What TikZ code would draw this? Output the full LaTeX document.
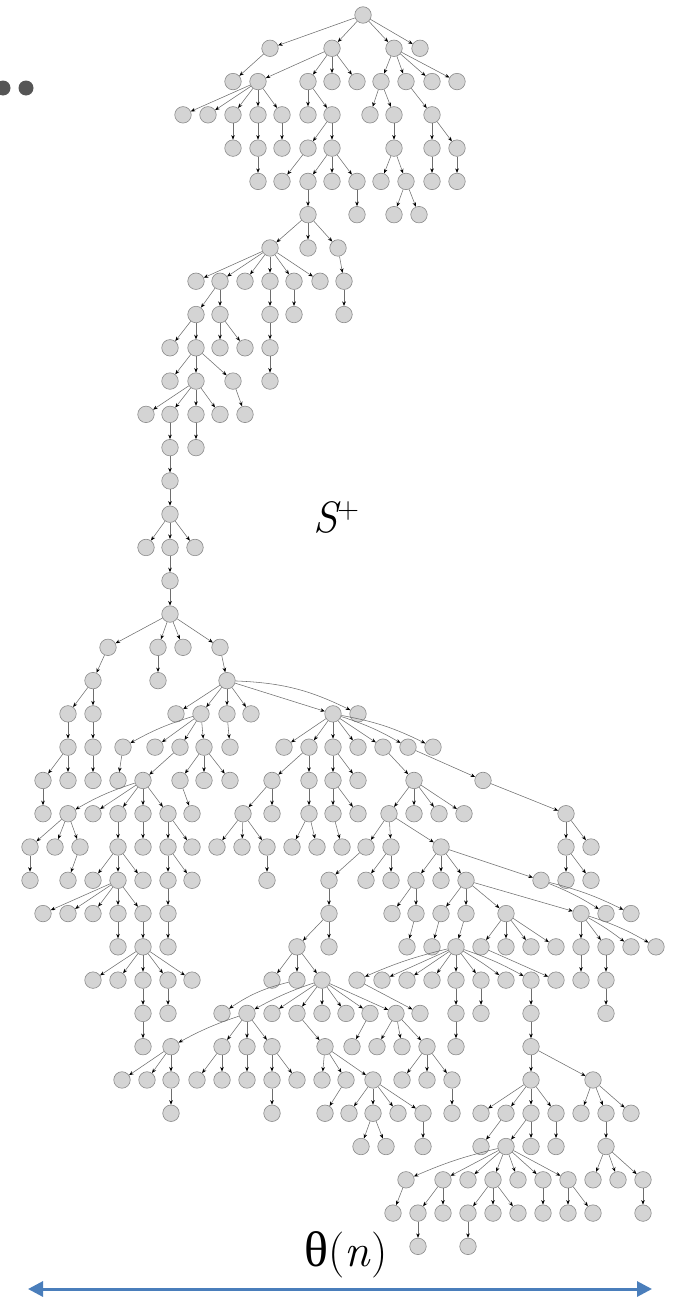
\documentclass[tikz,border=0pt]{standalone}
\usepackage{fontspec}
\newfontfamily\lserif{Liberation Serif}
\usetikzlibrary{arrows.meta}
\definecolor{nfill}{HTML}{D4D4D4}
\definecolor{nborder}{HTML}{8A8A8A}
\definecolor{egray}{HTML}{6E6E6E}
\definecolor{arblue}{HTML}{4A7EBB}
\definecolor{dotgray}{HTML}{555555}
\tikzset{
  tn/.style={circle, draw=nborder, fill=nfill, line width=0.6pt, minimum size=16.5pt, inner sep=0pt},
  ed/.style={draw=egray, line width=0.55pt, -{Stealth[length=4.5pt,width=3.6pt,color=black]}},
  dotn/.style={circle, fill=dotgray, minimum size=15pt, inner sep=0pt},
  bigarrow/.style={draw=arblue, line width=3pt, {Triangle[length=15pt,width=15pt]}-{Triangle[length=15pt,width=15pt]}}
}
\newcommand\mylvl[2]{\foreach \xx in {#2}{\node[tn] (n#1-\xx) at (\xx,{15+33.28*#1}) {};}}
\newcommand\mykids[3]{\pgfmathtruncatemacro\cl{#1+1}\foreach \cc in {#3}{\draw[ed] (n#1-#2) -- (n\cl-\cc);}}
\newcommand\mybent[4]{\pgfmathtruncatemacro\cl{#1+1}\draw[ed] (n#1-#2) to[#4] (n\cl-#3);}
\begin{document}
\begin{tikzpicture}[x=1pt,y=-1pt]
\useasboundingbox (0,0) rectangle (674,1298);
% nodes
\mylvl{0}{363}
\mylvl{1}{270,332,394,420}
\mylvl{2}{233,258,308,332,357,381,406,432,457}
\mylvl{3}{183,208,233,258,282,308,332,370,394,432}
\mylvl{4}{233,258,282,308,332,394,432,457}
\mylvl{5}{258,282,308,332,357,381,406,432,457}
\mylvl{6}{308,357,394,419}
\mylvl{7}{270,308,338}
\mylvl{8}{196,220,245,270,294,320,344}
\mylvl{9}{196,220,270,294,344}
\mylvl{10}{170,196,220,245,270}
\mylvl{11}{170,196,233,270}
\mylvl{12}{146,170,196,220,245}
\mylvl{13}{170,196}
\mylvl{14}{170}
\mylvl{15}{170}
\mylvl{16}{146,170,195}
\mylvl{17}{170}
\mylvl{18}{170}
\mylvl{19}{108,158,183,220}
\mylvl{20}{93,158,227}
\mylvl{21}{68,93,176,201,227,251,333,358}
\mylvl{22}{68,93,123,155,180,204,230,284,309,333,358,383,408,433}
\mylvl{23}{43,68,93,118,143,180,204,230,272,309,333,358,414,483}
\mylvl{24}{43,68,93,118,143,168,192,243,272,309,333,358,389,414,439,464,566}
\mylvl{25}{30,55,80,118,143,168,192,217,242,267,292,317,342,366,391,441,566,591}
\mylvl{26}{30,68,93,118,143,168,192,267,329,366,391,416,441,466,541,566,591}
\mylvl{27}{43,68,93,118,143,168,329,392,416,441,466,506,581,606,631}
\mylvl{28}{118,143,168,297,329,407,432,456,481,506,531,556,581,606,631,656}
\mylvl{29}{93,118,143,168,192,272,297,322,357,382,407,432,456,481,506,531,556,581,606}
\mylvl{30}{143,168,222,247,272,297,322,346,370,396,420,456,481,531,606}
\mylvl{31}{143,171,222,247,272,325,352,377,402,427,456,531}
\mylvl{32}{122,147,171,197,222,247,272,297,322,346,373,402,427,452,531,593}
\mylvl{33}{171,272,325,349,373,398,423,452,481,506,531,556,581,606,631}
\mylvl{34}{361,386,423,481,506,531,556,606}
\mylvl{35}{406,443,468,493,518,543,568,593,618,643}
\mylvl{36}{393,418,443,468,493,518,543,568,593,643}
\mylvl{37}{418,468}
% edges
\mykids{0}{363}{270,332,394,420}
\mykids{1}{270}{233}
\mykids{1}{332}{258,308,332,357}
\mykids{1}{394}{381,406,432,457}
\mykids{2}{258}{183,208,233,258,282}
\mykids{2}{308}{308,332}
\mykids{2}{381}{370,394}
\mykids{2}{406}{432}
\mykids{3}{233}{233}
\mykids{3}{258}{258}
\mykids{3}{282}{282}
\mykids{3}{332}{308,332}
\mykids{3}{394}{394}
\mykids{3}{432}{432,457}
\mykids{4}{258}{258}
\mykids{4}{308}{282}
\mykids{4}{332}{308,332,357}
\mykids{4}{394}{381,406}
\mykids{4}{432}{432}
\mykids{4}{457}{457}
\mykids{5}{308}{308}
\mykids{5}{357}{357}
\mykids{5}{406}{394,419}
\mykids{6}{308}{270,308,338}
\mykids{7}{270}{196,220,245,270,294,320}
\mykids{7}{338}{344}
\mykids{8}{220}{196,220}
\mykids{8}{270}{270}
\mykids{8}{294}{294}
\mykids{8}{344}{344}
\mykids{9}{196}{170,196}
\mykids{9}{220}{220,245}
\mykids{9}{270}{270}
\mykids{10}{196}{170,196,233}
\mykids{10}{270}{270}
\mykids{11}{196}{146,170,196,220}
\mykids{11}{233}{245}
\mykids{12}{170}{170}
\mykids{12}{196}{196}
\mykids{13}{170}{170}
\mykids{14}{170}{170}
\mykids{15}{170}{146,170,195}
\mykids{16}{170}{170}
\mykids{17}{170}{170}
\mykids{18}{170}{108,158,183,220}
\mykids{19}{108}{93}
\mykids{19}{158}{158}
\mykids{19}{220}{227}
\mykids{20}{93}{68,93}
\mykids{20}{227}{176,201,227,251,333}
\mybent{20}{227}{358}{bend left=12}
\mykids{21}{68}{68}
\mykids{21}{93}{93}
\mykids{21}{201}{155,180,204}
\mybent{21}{201}{123}{bend right=6}
\mykids{21}{227}{230}
\mykids{21}{333}{284,309,333,358,383}
\mybent{21}{333}{408}{bend left=6}
\mybent{21}{333}{433}{bend left=8}
\mykids{22}{68}{43,68}
\mykids{22}{93}{93}
\mykids{22}{123}{118}
\mykids{22}{180}{143}
\mykids{22}{204}{180,204,230}
\mykids{22}{309}{272,309}
\mykids{22}{333}{333,358}
\mykids{22}{383}{414}
\mykids{22}{408}{483}
\mykids{23}{43}{43}
\mykids{23}{143}{93,118,143,168}
\mybent{23}{143}{68}{bend right=6}
\mykids{23}{180}{192}
\mykids{23}{272}{243,272}
\mykids{23}{309}{309}
\mykids{23}{333}{333,358}
\mykids{23}{414}{389,414,439,464}
\mykids{23}{483}{566}
\mykids{24}{68}{30,55,80}
\mykids{24}{118}{118}
\mykids{24}{143}{143}
\mykids{24}{168}{168,192}
\mykids{24}{243}{217,242,267}
\mykids{24}{309}{292,317}
\mykids{24}{333}{342}
\mykids{24}{389}{366,391,441}
\mykids{24}{566}{566,591}
\mykids{25}{30}{30}
\mykids{25}{80}{68}
\mykids{25}{118}{93,118,143}
\mykids{25}{168}{168,192}
\mykids{25}{267}{267}
\mykids{25}{366}{329}
\mykids{25}{391}{366,391}
\mykids{25}{441}{416,441,466,541}
\mykids{25}{566}{566,591}
\mykids{26}{118}{43,68,93,118,143}
\mykids{26}{168}{168}
\mykids{26}{329}{329}
\mykids{26}{416}{392,416}
\mykids{26}{466}{441,466,506,581}
\mybent{26}{541}{606}{bend left=5}
\mybent{26}{541}{631}{bend left=6}
\mykids{27}{118}{118}
\mykids{27}{143}{143}
\mykids{27}{168}{168}
\mykids{27}{329}{297,329}
\mykids{27}{416}{407}
\mykids{27}{441}{432}
\mykids{27}{466}{456}
\mykids{27}{506}{481,506,531,556}
\mykids{27}{581}{581,606}
\mybent{27}{581}{631}{bend left=4}
\mybent{27}{581}{656}{bend left=6}
\mykids{28}{143}{93,118,143,168,192}
\mykids{28}{297}{272,297,322}
\mykids{28}{456}{382,407,432,456,481}
\mybent{28}{456}{357}{bend right=5}
\mybent{28}{456}{506}{bend left=3}
\mybent{28}{456}{531}{bend left=5}
\mykids{28}{481}{556}
\mykids{28}{581}{581}
\mykids{28}{606}{606}
\mykids{29}{143}{143}
\mykids{29}{168}{168}
\mybent{29}{297}{222}{bend right=10}
\mykids{29}{322}{272,297,322,346,370,396}
\mybent{29}{322}{247}{bend right=5}
\mykids{29}{357}{420}
\mykids{29}{456}{456}
\mykids{29}{481}{481}
\mykids{29}{531}{531}
\mykids{29}{606}{606}
\mykids{30}{143}{143}
\mykids{30}{247}{222,247,272}
\mybent{30}{247}{171}{bend right=5}
\mykids{30}{297}{325}
\mykids{30}{370}{352}
\mykids{30}{396}{377,402,427}
\mykids{30}{456}{456}
\mykids{30}{531}{531}
\mykids{31}{171}{122,147,171}
\mykids{31}{222}{197,222}
\mykids{31}{247}{247}
\mykids{31}{272}{272,297}
\mykids{31}{325}{322,346,373}
\mykids{31}{427}{402,427,452}
\mykids{31}{531}{531,593}
\mykids{32}{171}{171}
\mykids{32}{272}{272}
\mykids{32}{346}{325}
\mykids{32}{373}{349,373,398,423}
\mykids{32}{452}{452}
\mykids{32}{531}{481,506,531,556}
\mykids{32}{593}{581,606,631}
\mykids{33}{373}{361,386}
\mykids{33}{423}{423}
\mykids{33}{506}{481}
\mykids{33}{531}{506,531}
\mykids{33}{556}{556}
\mykids{33}{606}{606}
\mykids{34}{506}{443,468,493,518,543,568}
\mybent{34}{506}{406}{bend right=5}
\mykids{34}{606}{593,618,643}
\mykids{35}{406}{393}
\mykids{35}{443}{418,443}
\mykids{35}{493}{468,493,518}
\mykids{35}{543}{543}
\mykids{35}{568}{568,593}
\mykids{35}{643}{643}
\mykids{36}{418}{418}
\mykids{36}{468}{468}
% dots
\node[dotn] (dot1) at (3,88) {};
\node[dotn] (dot2) at (26,88) {};
% labels
\node (splus) at (336,517) {\fontsize{44}{50}\selectfont\itshape S\raisebox{0.3em}{\upshape\fontsize{30}{30}\selectfont +}};
\node (theta) at (346,1255) {\fontsize{46}{50}\selectfont{\lserif\fontsize{50}{50}\selectfont θ}(\textit{n})};
% width arrow
\coordinate (arL) at (28,1289);
\coordinate (arR) at (652,1289);
\draw[bigarrow] (arL) -- (arR);
\end{tikzpicture}
\end{document}
